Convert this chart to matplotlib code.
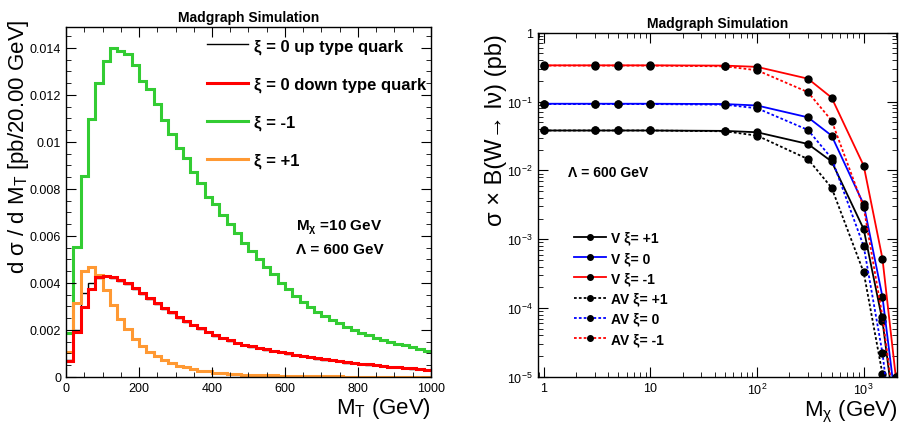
import numpy as np
import matplotlib
matplotlib.use("Agg")
from matplotlib import pyplot as plt
from matplotlib.ticker import MultipleLocator, FuncFormatter, LogLocator, NullFormatter

plt.rcParams['font.family'] = ['Liberation Sans', 'DejaVu Sans']
plt.rcParams['mathtext.fontset'] = 'custom'
plt.rcParams['mathtext.rm'] = 'Liberation Sans'
plt.rcParams['mathtext.it'] = 'Liberation Sans'
plt.rcParams['mathtext.bf'] = 'Liberation Sans:bold'
plt.rcParams['mathtext.default'] = 'regular'

# ---------------- left panel: MT distributions (20 GeV bins) ----------------
mt_edges = np.arange(0, 1001, 20)

green_xi_m1 = [0.00188, 0.00553, 0.00857, 0.01096, 0.01252, 0.01343, 0.01399, 0.01388, 0.01376, 0.01326,
               0.01258, 0.01226, 0.01162, 0.01095, 0.01034, 0.00974, 0.00931, 0.00872, 0.00827, 0.00765,
               0.00734, 0.00688, 0.00650, 0.00612, 0.00570, 0.00535, 0.00500, 0.00466, 0.00436, 0.00400,
               0.00372, 0.00345, 0.00320, 0.00298, 0.00278, 0.00260, 0.00243, 0.00228, 0.00213, 0.00200,
               0.00188, 0.00177, 0.00167, 0.00158, 0.00149, 0.00141, 0.00134, 0.00127, 0.00120, 0.00111]

red_down = [0.00067, 0.00191, 0.00298, 0.00373, 0.00425, 0.00431, 0.00425, 0.00412, 0.00398, 0.00378,
            0.00356, 0.00335, 0.00314, 0.00294, 0.00275, 0.00256, 0.00238, 0.00222, 0.00206, 0.00192,
            0.00178, 0.00166, 0.00156, 0.00146, 0.00137, 0.00131, 0.00125, 0.00118, 0.00112, 0.00106,
            0.00100, 0.00094, 0.00089, 0.00084, 0.00079, 0.00075, 0.00071, 0.00067, 0.00062, 0.00059,
            0.00056, 0.00053, 0.00050, 0.00047, 0.00044, 0.00041, 0.00038, 0.00036, 0.00034, 0.00031]

black_up = [0.00072, 0.00200, 0.00355, 0.00401, 0.00422, 0.00428, 0.00421, 0.00408, 0.00394, 0.00374,
            0.00352, 0.00331, 0.00310, 0.00290, 0.00271, 0.00252, 0.00235, 0.00219, 0.00203, 0.00189,
            0.00176, 0.00164, 0.00154, 0.00144, 0.00135, 0.00129, 0.00123, 0.00116, 0.00110, 0.00104,
            0.00098, 0.00093, 0.00088, 0.00083, 0.00078, 0.00074, 0.00070, 0.00066, 0.00061, 0.00058,
            0.00055, 0.00052, 0.00049, 0.00046, 0.00043, 0.00040, 0.00037, 0.00035, 0.00033, 0.00030]

orange_xi_p1 = [0.00106, 0.00313, 0.00450, 0.00467, 0.00432, 0.00370, 0.00305, 0.00248, 0.00204, 0.00163,
                0.00131, 0.00108, 0.00089, 0.00073, 0.00059, 0.00048, 0.00040, 0.00033, 0.00027, 0.00023,
                0.00018, 0.00016, 0.00014, 0.00012, 0.00010, 0.00009, 0.00008, 0.00007, 0.00006, 0.00005,
                0.000045, 0.00004, 0.000035, 0.00003, 0.000027, 0.000024, 0.00002, 0.000018, 0.000016, 0.000014,
                0.000012, 0.00001, 0.00001, 0.000009, 0.000008, 0.000007, 0.000007, 0.000006, 0.000006, 0.000005]

# ---------------- right panel: cross section vs dark matter mass ----------------
m_chi = [1, 3, 5, 10, 50, 100, 300, 500, 1000, 1500, 2000]

v_xi_p1 = [0.038, 0.038, 0.038, 0.038, 0.0375, 0.0358, 0.0242, 0.0135, 1.4e-3, 6.5e-5, 2e-6]
v_xi_0 = [0.093, 0.093, 0.093, 0.093, 0.092, 0.0877, 0.059, 0.032, 3.2e-3, 1.45e-4, 4e-6]
v_xi_m1 = [0.336, 0.336, 0.336, 0.336, 0.333, 0.319, 0.215, 0.114, 0.0117, 5.2e-4, 1.0e-5]
av_xi_p1 = [0.038, 0.038, 0.038, 0.038, 0.037, 0.032, 0.0146, 5.6e-3, 3.3e-4, 1.1e-5, 3e-7]
av_xi_0 = [0.092, 0.092, 0.092, 0.092, 0.090, 0.080, 0.0387, 0.015, 7.9e-4, 2.2e-5, 6e-7]
av_xi_m1 = [0.333, 0.333, 0.333, 0.333, 0.325, 0.285, 0.137, 0.053, 2.9e-3, 7.5e-5, 2.5e-6]

fig = plt.figure(figsize=(9.01, 4.27), dpi=100)

# ---- left ----
ax1 = fig.add_axes([0.0733, 0.115, 0.405, 0.82])
ax1.stairs(green_xi_m1, mt_edges, baseline=None, color='#33cc33', lw=2.2)
ax1.stairs(black_up, mt_edges, baseline=None, color='black', lw=1.0)
ax1.stairs(orange_xi_p1, mt_edges, baseline=None, color='#ff9933', lw=2.2)
ax1.stairs(red_down, mt_edges, baseline=None, color='#ff0000', lw=2.2)
ax1.set_xlim(0, 1000)
ax1.set_ylim(0, 0.0149)
ax1.xaxis.set_major_locator(MultipleLocator(200))
ax1.xaxis.set_minor_locator(MultipleLocator(50))
ax1.yaxis.set_major_locator(MultipleLocator(0.002))
ax1.yaxis.set_minor_locator(MultipleLocator(0.0005))
ax1.yaxis.set_major_formatter(FuncFormatter(lambda v, p: '%g' % round(v, 4)))
ax1.set_title('Madgraph Simulation', fontsize=10, fontweight='bold', pad=4)
ax1.set_ylabel('d σ / d M$_T$ [pb/20.00 GeV]', fontsize=16)
ax1.yaxis.set_label_coords(-0.095, 0.66)
ax1.set_xlabel('M$_T$ (GeV)', fontsize=16, loc='right', labelpad=1)

# legend, drawn as proxy lines
h1, = ax1.plot([], [], color='black', lw=1.0)
h2, = ax1.plot([], [], color='#ff0000', lw=2.2)
h3, = ax1.plot([], [], color='#33cc33', lw=2.2)
h4, = ax1.plot([], [], color='#ff9933', lw=2.2)
leg1 = ax1.legend([h1, h2, h3, h4],
                  ['ξ = 0 up type quark', 'ξ = 0 down type quark', 'ξ = -1', 'ξ = +1'],
                  loc='upper left', bbox_to_anchor=(0.345, 1.01), frameon=False,
                  prop={'size': 12, 'weight': 'bold'}, handlelength=2.45,
                  handletextpad=0.4, labelspacing=1.36)

ax1.text(0.63, 0.42, 'M$_\\chi$ =10 GeV', transform=ax1.transAxes, fontsize=11, fontweight='bold')
ax1.text(0.63, 0.355, 'Λ = 600 GeV', transform=ax1.transAxes, fontsize=11, fontweight='bold')

# ---- right ----
ax2 = fig.add_axes([0.597, 0.115, 0.399, 0.806])
styles = [
    (v_xi_p1, 'black', '-', 'V ξ= +1'),
    (v_xi_0, '#0000ff', '-', 'V ξ= 0'),
    (v_xi_m1, '#ff0000', '-', 'V ξ= -1'),
    (av_xi_p1, 'black', (0, (1.5, 1.2)), 'AV ξ= +1'),
    (av_xi_0, '#0000ff', (0, (1.5, 1.2)), 'AV ξ= 0'),
    (av_xi_m1, '#ff0000', (0, (1.5, 1.2)), 'AV ξ= -1'),
]
for vals, col, ls, lab in styles:
    ax2.plot(m_chi, vals, color=col, ls=ls, lw=1.3, marker='o', ms=5,
             mfc='black', mec='black', label=lab)
ax2.set_xscale('log')
ax2.set_yscale('log')
ax2.set_xlim(0.88, 2070)
ax2.set_ylim(1e-5, 1)
ax2.xaxis.set_major_locator(LogLocator(base=10))
ax2.xaxis.set_minor_locator(LogLocator(base=10, subs=np.arange(2, 10)))
ax2.xaxis.set_minor_formatter(NullFormatter())
ax2.yaxis.set_minor_locator(LogLocator(base=10, subs=np.arange(2, 10)))
ax2.yaxis.set_minor_formatter(NullFormatter())

def log_label(v, p):
    e = int(round(np.log10(v)))
    if e == 0:
        return '1'
    if e == 1:
        return '10'
    return '10$^{%d}$' % e

ax2.xaxis.set_major_formatter(FuncFormatter(log_label))
ax2.yaxis.set_major_formatter(FuncFormatter(log_label))
ax2.set_title('Madgraph Simulation', fontsize=10, fontweight='bold', pad=4)
ax2.set_ylabel('σ × B(W→ lν) (pb)', fontsize=17, loc='top', labelpad=0)
ax2.set_xlabel('M$_χ$ (GeV)', fontsize=16, loc='right', labelpad=1)
ax2.legend(loc='upper left', bbox_to_anchor=(0.08, 0.445), frameon=False,
           prop={'size': 10, 'weight': 'bold'}, handlelength=2.3, markerscale=0.8,
           handletextpad=0.4, labelspacing=0.45, borderpad=0)
ax2.text(0.085, 0.585, 'Λ = 600 GeV', transform=ax2.transAxes, fontsize=10, fontweight='bold')

for ax in (ax1, ax2):
    ax.tick_params(which='both', direction='in', top=True, right=True, labelsize=9)
    ax.tick_params(which='major', length=7)
    ax.tick_params(which='minor', length=3.5)
    for s in ax.spines.values():
        s.set_linewidth(1.0)

fig.savefig('out.png', dpi=100)
